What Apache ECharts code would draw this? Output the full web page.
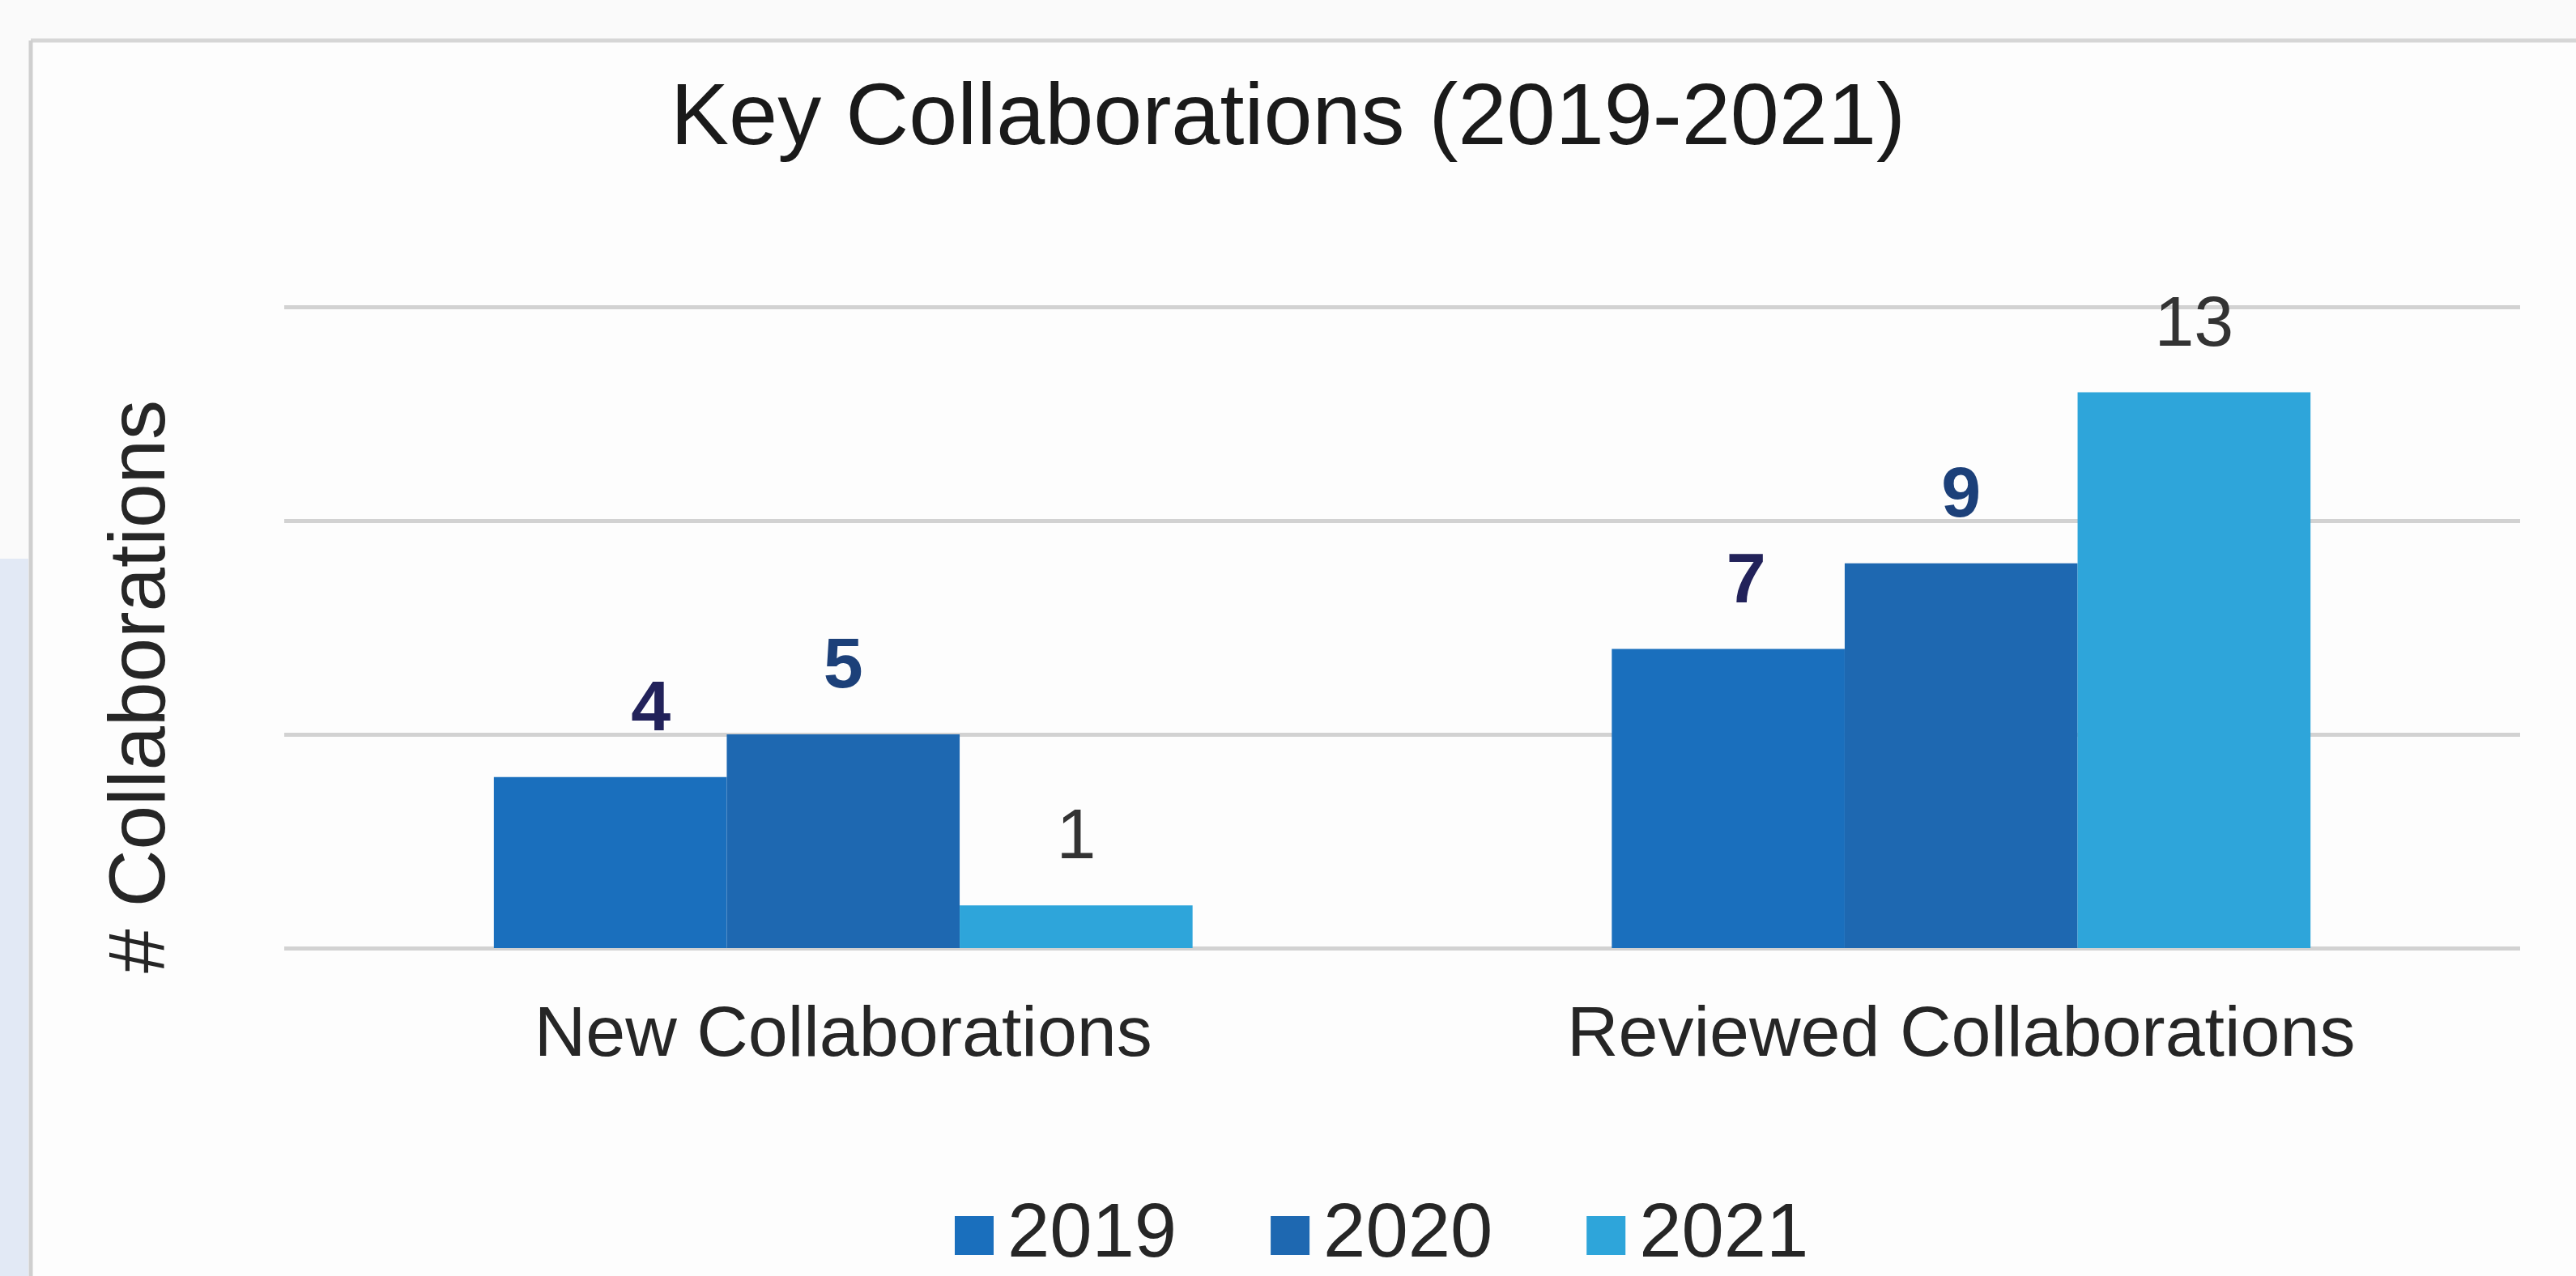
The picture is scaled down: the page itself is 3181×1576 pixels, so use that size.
<!DOCTYPE html>
<html>
<head>
<meta charset="utf-8">
<script src="https://cdn.jsdelivr.net/npm/echarts@6/dist/echarts.min.js"></script>
<style>
html,body{margin:0;padding:0;background:#fafafa;}
#chart{width:3181px;height:1576px;}
</style>
</head>
<body>
<div id="chart"></div>
<script>
const categories = ['New Collaborations', 'Reviewed Collaborations'];
const years = ['2019', '2020', '2021'];
const values2019 = [4, 7];
const values2020 = [5, 9];
const values2021 = [1, 13];
const yTicks = [0, 5, 10, 15];

const FONT = '"Liberation Sans", Arial, sans-serif';
const barColors = ['#1a6fbd', '#1e68b1', '#2ea5da'];
const labelColors = ['#22225a', '#1c4079', '#333333'];
const labelWeights = ['bold', 'bold', 'normal'];
// horizontal label shifts (px) per series, per category
const labelShifts = [[50, 22], [0, 0], [0, 0]];
const seriesValues = [values2019, values2020, values2021];

const chart = echarts.init(document.getElementById('chart'));
const option = {
  backgroundColor: '#fdfdfd',
  animation: false,
  graphic: [
    { type: 'rect', left: 0, top: 0, shape: { width: 3181, height: 48 }, style: { fill: '#fafafa' }, silent: true },
    { type: 'rect', left: 0, top: 0, shape: { width: 36, height: 1576 }, style: { fill: '#fafafa' }, silent: true },
    { type: 'rect', left: 0, top: 690, shape: { width: 35, height: 886 }, style: { fill: '#e2e9f5' }, silent: true },
    { type: 'line', shape: { x1: 38, y1: 50, x2: 3181, y2: 50 }, style: { stroke: '#d6d6d6', lineWidth: 5 }, silent: true },
    { type: 'line', shape: { x1: 38, y1: 50, x2: 38, y2: 1576 }, style: { stroke: '#cfcfcf', lineWidth: 5 }, silent: true }
  ],
  title: {
    text: 'Key Collaborations (2019-2021)',
    left: 'center',
    top: 89,
    textStyle: { fontFamily: FONT, fontSize: 108, fontWeight: 'normal', color: '#1a1a1a' }
  },
  legend: {
    data: years,
    left: 1174,
    top: 1474,
    icon: 'rect',
    itemWidth: 48,
    itemHeight: 48,
    itemGap: 116,
    textStyle: { fontFamily: FONT, fontSize: 94, color: '#262626', padding: [0, 0, 0, 12] }
  },
  grid: { left: 351, right: 69, top: 379, bottom: 405 },
  xAxis: {
    type: 'category',
    data: categories,
    axisLine: { show: false },
    axisTick: { show: false },
    axisLabel: { fontFamily: FONT, fontSize: 88, color: '#262626', margin: 65 }
  },
  yAxis: {
    type: 'value',
    min: yTicks[0],
    max: yTicks[yTicks.length - 1],
    interval: yTicks[1] - yTicks[0],
    name: '# Collaborations',
    nameLocation: 'middle',
    nameGap: 126,
    nameTextStyle: { fontFamily: FONT, fontSize: 98, color: '#262626', padding: [0, 146, 0, 0] },
    axisLabel: { show: false },
    axisLine: { show: false },
    axisTick: { show: false },
    splitLine: { lineStyle: { color: '#d2d2d2', width: 5 } }
  },
  series: years.map((y, i) => ({
    name: y,
    type: 'bar',
    data: seriesValues[i].map((v, j) => ({
      value: v,
      label: { offset: [labelShifts[i][j], 0] }
    })),
    barGap: '0%',
    barCategoryGap: '37.5%',
    itemStyle: { color: barColors[i] },
    label: {
      show: true,
      position: 'top',
      distance: 38,
      fontFamily: FONT,
      fontSize: 88,
      fontWeight: labelWeights[i],
      color: labelColors[i]
    }
  }))
};
chart.setOption(option);
</script>
</body>
</html>
